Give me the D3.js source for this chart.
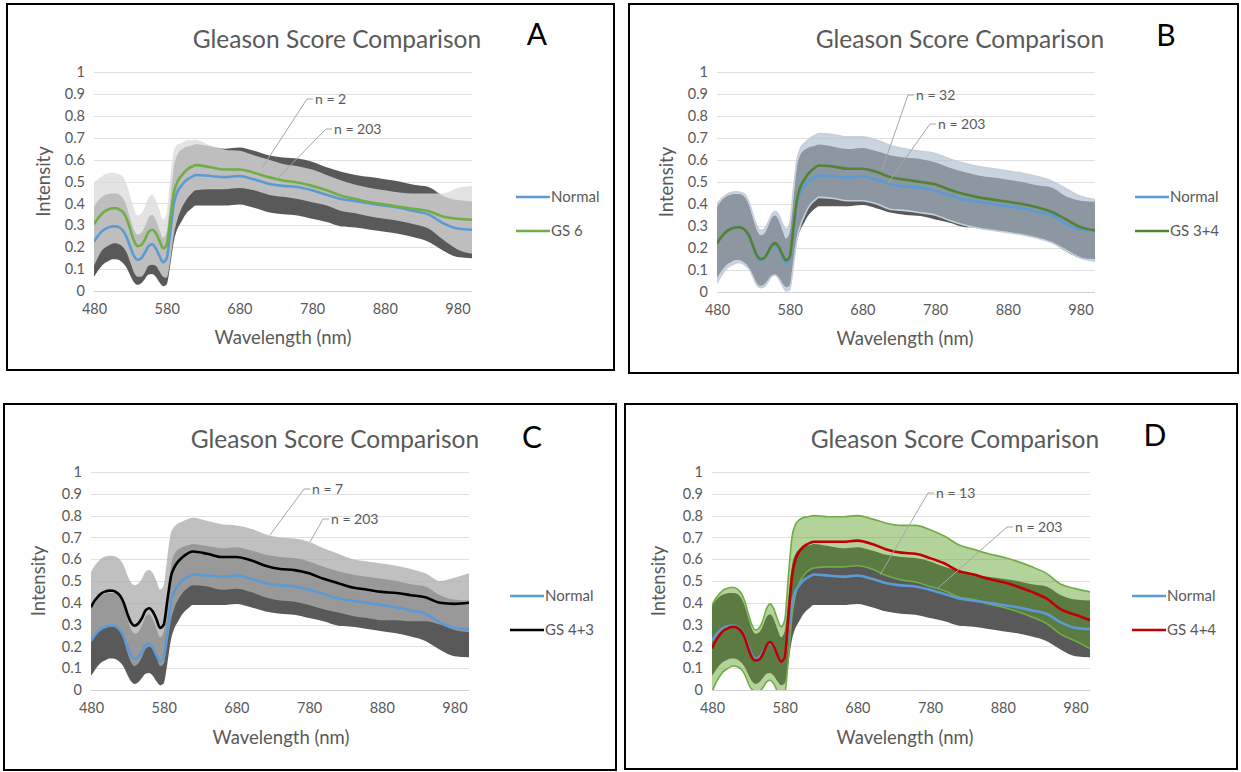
<!DOCTYPE html>
<html>
<head>
<meta charset="utf-8">
<script src="https://cdn.jsdelivr.net/npm/d3@7"></script>
<style>
  body { margin: 0; background: #fff; }
  text { font-family: Lato, "Open Sans", sans-serif; }
</style>
</head>
<body>
<div id="chart"></div>
<script>
// wavelength grid (nm) and spectra
var wavelengths = [480,485,490,495,500,505,510,515,520,525,530,535,540,545,550,555,560,565,570,575,580,585,590,595,600,605,610,615,620,
  640,660,680,700,720,740,760,780,800,820,840,860,880,900,920,940,960,980,1000];

var normalMean = [0.225,0.25,0.27,0.283,0.29,0.295,0.295,0.29,0.275,0.245,0.2,0.16,0.143,0.15,0.175,0.205,0.213,0.195,0.16,0.132,0.15,0.27,0.4,0.455,0.48,0.5,0.513,0.522,0.53,
  0.525,0.52,0.525,0.51,0.49,0.48,0.475,0.46,0.44,0.42,0.41,0.4,0.39,0.38,0.365,0.35,0.31,0.285,0.28];
var normalSd = [0.16,0.16,0.158,0.155,0.153,0.15,0.15,0.15,0.148,0.14,0.13,0.12,0.115,0.115,0.12,0.13,0.135,0.13,0.12,0.11,0.12,0.15,0.17,0.17,0.165,0.155,0.148,0.143,0.14,
  0.135,0.13,0.13,0.13,0.13,0.13,0.13,0.13,0.125,0.125,0.12,0.12,0.12,0.12,0.12,0.125,0.125,0.13,0.13];

var gs6Mean = [0.305,0.33,0.35,0.365,0.373,0.378,0.378,0.372,0.36,0.33,0.28,0.23,0.205,0.21,0.235,0.27,0.28,0.265,0.23,0.195,0.21,0.33,0.45,0.5,0.525,0.545,0.56,0.568,0.575,
  0.565,0.555,0.555,0.54,0.52,0.505,0.495,0.48,0.46,0.435,0.42,0.405,0.395,0.385,0.375,0.365,0.34,0.33,0.325];
var gs6Sd = [0.19,0.18,0.17,0.168,0.165,0.162,0.16,0.16,0.16,0.155,0.15,0.145,0.14,0.145,0.15,0.155,0.16,0.15,0.14,0.13,0.15,0.19,0.19,0.17,0.15,0.14,0.13,0.12,0.115,
  0.1,0.09,0.085,0.08,0.08,0.075,0.075,0.075,0.07,0.07,0.065,0.065,0.065,0.065,0.07,0.08,0.105,0.14,0.155];

var gs34Mean = [0.22,0.245,0.265,0.28,0.288,0.293,0.294,0.29,0.277,0.25,0.205,0.165,0.15,0.155,0.18,0.21,0.222,0.205,0.17,0.145,0.16,0.29,0.42,0.48,0.51,0.535,0.553,0.566,0.575,
  0.57,0.56,0.56,0.545,0.52,0.51,0.5,0.49,0.465,0.445,0.43,0.42,0.41,0.4,0.385,0.365,0.33,0.295,0.28];
var gs34Sd = [0.18,0.175,0.17,0.167,0.165,0.163,0.16,0.16,0.16,0.15,0.14,0.135,0.13,0.13,0.135,0.14,0.145,0.145,0.14,0.14,0.15,0.17,0.18,0.175,0.165,0.155,0.15,0.147,0.145,
  0.145,0.145,0.145,0.145,0.145,0.14,0.14,0.14,0.14,0.14,0.14,0.14,0.14,0.14,0.14,0.14,0.14,0.14,0.14];

var gs43Mean = [0.38,0.41,0.43,0.445,0.452,0.456,0.455,0.448,0.432,0.4,0.35,0.31,0.295,0.305,0.33,0.365,0.375,0.36,0.325,0.285,0.3,0.41,0.52,0.565,0.59,0.607,0.62,0.63,0.635,
  0.625,0.61,0.61,0.595,0.57,0.555,0.55,0.535,0.51,0.49,0.47,0.46,0.45,0.445,0.435,0.425,0.4,0.395,0.4];
var gs43Sd = [0.16,0.16,0.16,0.16,0.16,0.16,0.16,0.162,0.165,0.17,0.178,0.183,0.185,0.183,0.18,0.177,0.175,0.175,0.175,0.175,0.18,0.2,0.2,0.185,0.175,0.165,0.16,0.157,0.155,
  0.15,0.15,0.145,0.145,0.145,0.145,0.145,0.145,0.14,0.135,0.13,0.13,0.13,0.125,0.12,0.11,0.1,0.12,0.135];

var gs44Mean = [0.19,0.225,0.25,0.27,0.28,0.288,0.29,0.285,0.27,0.24,0.19,0.15,0.135,0.14,0.165,0.205,0.22,0.2,0.16,0.13,0.15,0.33,0.52,0.6,0.635,0.655,0.667,0.675,0.68,
  0.68,0.68,0.685,0.67,0.645,0.63,0.625,0.605,0.58,0.545,0.53,0.51,0.495,0.475,0.45,0.42,0.37,0.345,0.32];
var gs44Sd = [0.2,0.195,0.19,0.187,0.185,0.182,0.18,0.178,0.175,0.168,0.16,0.148,0.14,0.145,0.155,0.168,0.175,0.172,0.165,0.16,0.17,0.19,0.18,0.16,0.145,0.135,0.127,0.122,0.12,
  0.115,0.115,0.115,0.115,0.12,0.125,0.13,0.13,0.125,0.12,0.115,0.115,0.115,0.115,0.115,0.115,0.115,0.12,0.13];

var xTicks = [480,580,680,780,880,980];
var yTicks = [0,0.1,0.2,0.3,0.4,0.5,0.6,0.7,0.8,0.9,1];

var panelLetters = ["A","B","C","D"];
var groupNames = ["GS 6","GS 3+4","GS 4+3","GS 4+4"];
var groupN = ["n = 2","n = 32","n = 7","n = 13"];

var W = 1241, H = 772;
var svg = d3.select("#chart").append("svg")
  .attr("width", W)
  .attr("height", H);

// panel layout
var panels = [
  {box: [7, 4, 607, 366], plot: [94, 72, 472, 291], title: [337, 48], letter: [537, 45], legend: [516, 197],
   ylab: 44, xlab: [283, 344], mean: gs6Mean, sd: gs6Sd, color: "#70ad47", band: "#dbdbdb", bandOp: 0.78, edge: null,
   lead1: [[307, 99], [262, 168]], lead2: [[326, 129], [275, 181]]},
  {box: [629, 4, 609, 369], plot: [717, 72, 1095, 292], title: [960, 48], letter: [1166, 46], legend: [1135, 197],
   ylab: 667, xlab: [905, 345], mean: gs34Mean, sd: gs34Sd, color: "#548235", band: "#a9bbcc", bandOp: 0.63, edge: "#c5d0dc",
   lead1: [[908, 95], [882, 170]], lead2: [[930, 124], [888, 183]]},
  {box: [4, 404, 612, 366], plot: [91, 472, 469, 690], title: [335, 448], letter: [532, 448], legend: [510, 596],
   ylab: 39, xlab: [281, 744], mean: gs43Mean, sd: gs43Sd, color: "#000000", band: "#adadad", bandOp: 0.77, edge: null,
   lead1: [[304, 489], [270, 535]], lead2: [[323, 519], [310, 542]]},
  {box: [625, 404, 612, 365], plot: [712, 472, 1090, 690], title: [955, 448], letter: [1155, 446], legend: [1132, 596],
   ylab: 659, xlab: [905, 744], mean: gs44Mean, sd: gs44Sd, color: "#c00000", band: "#5ea228", bandOp: 0.47, edge: "#70ad47",
   lead1: [[928, 493], [880, 575]], lead2: [[1007, 527], [938, 588]]}
];

panels.forEach(function(p, i) {
  var g = svg.append("g");

  g.append("rect")
    .attr("x", p.box[0]).attr("y", p.box[1])
    .attr("width", p.box[2]).attr("height", p.box[3])
    .attr("fill", "#fff")
    .attr("stroke", "#000")
    .attr("stroke-width", 2);

  var x = d3.scaleLinear().domain([480, 1000]).range([p.plot[0], p.plot[2]]);
  var y = d3.scaleLinear().domain([0, 1]).range([p.plot[3], p.plot[1]]);

  var clipId = "clip" + i;
  g.append("clipPath").attr("id", clipId)
    .append("rect")
    .attr("x", p.plot[0]).attr("y", p.plot[1])
    .attr("width", p.plot[2] - p.plot[0]).attr("height", p.plot[3] - p.plot[1]);

  // gridlines
  g.append("g").selectAll("line")
    .data(yTicks)
    .join("line")
    .attr("x1", p.plot[0]).attr("x2", p.plot[2])
    .attr("y1", function(d) { return Math.round(y(d)) + 0.5; })
    .attr("y2", function(d) { return Math.round(y(d)) + 0.5; })
    .attr("stroke", function(d) { return d === 0 ? "#d0d0d0" : "#e0e0e0"; })
    .attr("stroke-width", 1.2);

  // y axis labels
  var yAxis = g.append("g")
    .attr("transform", "translate(" + (p.plot[0] - 6) + ",0)")
    .call(d3.axisLeft(y).tickValues(yTicks).tickSize(0).tickFormat(d3.format("")))
    .call(function(a) { a.select(".domain").remove(); });
  yAxis.selectAll("text")
    .attr("fill", "#595959")
    .style("font-size", "14.5px")
    .style("font-family", "Lato, 'Open Sans', sans-serif");

  // x axis labels
  var xAxis = g.append("g")
    .attr("transform", "translate(0," + (p.plot[3] + 10) + ")")
    .call(d3.axisBottom(x).tickValues(xTicks).tickSize(0).tickFormat(d3.format("d")))
    .call(function(a) { a.select(".domain").remove(); });
  xAxis.selectAll("text")
    .attr("fill", "#595959")
    .style("font-size", "14.5px")
    .style("font-family", "Lato, 'Open Sans', sans-serif");

  var normalRows = wavelengths.map(function(w, k) { return {w: w, m: normalMean[k], s: normalSd[k]}; });
  var groupRows = wavelengths.map(function(w, k) { return {w: w, m: p.mean[k], s: p.sd[k]}; });

  var band = d3.area()
    .x(function(d) { return x(d.w); })
    .y0(function(d) { return y(d.m - d.s); })
    .y1(function(d) { return y(d.m + d.s); })
    .curve(d3.curveMonotoneX);

  var line = d3.line()
    .x(function(d) { return x(d.w); })
    .y(function(d) { return y(d.m); })
    .curve(d3.curveMonotoneX);

  var marks = g.append("g").attr("clip-path", "url(#" + clipId + ")");

  marks.append("path")
    .datum(normalRows)
    .attr("d", band)
    .attr("fill", "#595959");

  marks.append("path")
    .datum(groupRows)
    .attr("d", band)
    .attr("fill", p.band)
    .attr("fill-opacity", p.bandOp);

  if (p.edge) {
    [1, -1].forEach(function(sign) {
      marks.append("path")
        .datum(groupRows)
        .attr("d", d3.line()
          .x(function(d) { return x(d.w); })
          .y(function(d) { return y(d.m + sign * d.s); })
          .curve(d3.curveMonotoneX))
        .attr("fill", "none")
        .attr("stroke", p.edge)
        .attr("stroke-width", 1.6);
    });
  }

  marks.append("path")
    .datum(normalRows)
    .attr("d", line)
    .attr("fill", "none")
    .attr("stroke", "#5b9bd5")
    .attr("stroke-width", 2.6);

  marks.append("path")
    .datum(groupRows)
    .attr("d", line)
    .attr("fill", "none")
    .attr("stroke", p.color)
    .attr("stroke-width", 2.6);

  // sample-size callouts
  [[p.lead1, groupN[i]], [p.lead2, "n = 203"]].forEach(function(c) {
    var a = c[0][0], b = c[0][1];
    g.append("polyline")
      .attr("points", [[a[0] + 6, a[1]], a, b].map(function(pt) { return pt.join(","); }).join(" "))
      .attr("fill", "none")
      .attr("stroke", "#a6a6a6")
      .attr("stroke-width", 1);
    g.append("text")
      .attr("x", a[0] + 8).attr("y", a[1] + 5)
      .attr("fill", "#595959")
      .style("font-size", "14px")
      .text(c[1]);
  });

  // titles
  g.append("text")
    .attr("x", p.title[0]).attr("y", p.title[1])
    .attr("text-anchor", "middle")
    .attr("fill", "#595959")
    .style("font-size", "24.5px")
    .text("Gleason Score Comparison");

  g.append("text")
    .attr("x", p.letter[0]).attr("y", p.letter[1])
    .attr("text-anchor", "middle")
    .attr("fill", "#000")
    .style("font-size", "30px")
    .text(panelLetters[i]);

  g.append("text")
    .attr("transform", "translate(" + p.ylab + "," + ((p.plot[1] + p.plot[3]) / 2) + ") rotate(-90)")
    .attr("text-anchor", "middle")
    .attr("dy", "0.35em")
    .attr("fill", "#595959")
    .style("font-size", "18.5px")
    .text("Intensity");

  g.append("text")
    .attr("x", p.xlab[0]).attr("y", p.xlab[1])
    .attr("text-anchor", "middle")
    .attr("fill", "#595959")
    .style("font-size", "18.5px")
    .text("Wavelength (nm)");

  // legend
  var leg = [["Normal", "#5b9bd5"], [groupNames[i], p.color]];
  leg.forEach(function(l, k) {
    var ly = p.legend[1] + k * 34;
    g.append("line")
      .attr("x1", p.legend[0]).attr("x2", p.legend[0] + 34)
      .attr("y1", ly).attr("y2", ly)
      .attr("stroke", l[1])
      .attr("stroke-width", 2.6);
    g.append("text")
      .attr("x", p.legend[0] + 35).attr("y", ly + 5)
      .attr("fill", "#595959")
      .style("font-size", "15px")
      .text(l[0]);
  });
});
</script>
</body>
</html>
